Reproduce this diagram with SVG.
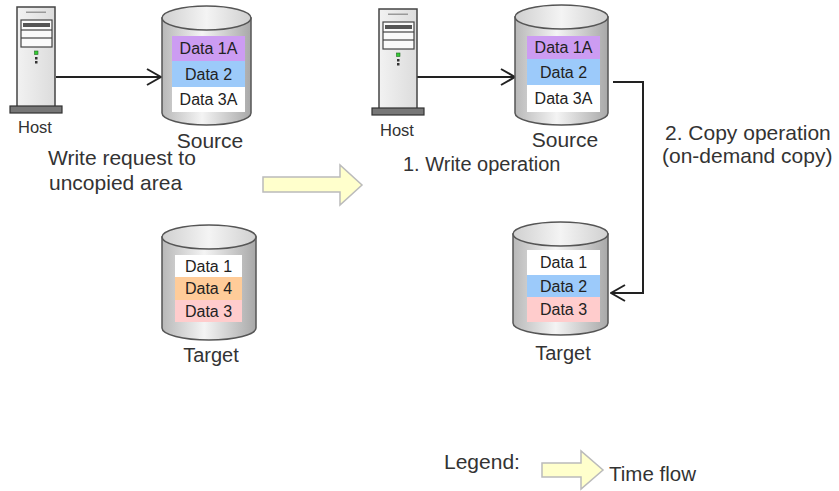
<svg xmlns="http://www.w3.org/2000/svg" xmlns:xlink="http://www.w3.org/1999/xlink" width="839" height="491" viewBox="0 0 839 491">
<style>
text{font-family:"Liberation Sans",Arial,sans-serif;fill:#333}
.lbl{font-size:21px}
.host{font-size:16.5px}
.data{font-size:16px;text-anchor:middle;fill:#222}
.mid{text-anchor:middle}
.cyl{fill:url(#cylG);stroke:#555;stroke-width:1.5}
.cylTop{fill:url(#topG);stroke:#555;stroke-width:1.5}
.conn{fill:none;stroke:#222;stroke-width:2}
.time{fill:#ffffcc;stroke:#bbb;stroke-width:1.5}
</style>
<defs>
<linearGradient id="cylG" x1="0" y1="0" x2="1" y2="0">
<stop offset="0" stop-color="#b8b8b8"/>
<stop offset="0.45" stop-color="#f4f4f4"/>
<stop offset="1" stop-color="#a8a8a8"/>
</linearGradient>
<linearGradient id="topG" x1="0" y1="0" x2="1" y2="0">
<stop offset="0" stop-color="#d0d0d0"/>
<stop offset="0.5" stop-color="#f4f4f4"/>
<stop offset="1" stop-color="#d0d0d0"/>
</linearGradient>
<linearGradient id="towerG" x1="0" y1="0" x2="1" y2="0">
<stop offset="0" stop-color="#f2f2f2"/>
<stop offset="1" stop-color="#dcdcdc"/>
</linearGradient>
<marker id="open" viewBox="0 0 18 18" refX="17" refY="9" markerWidth="18" markerHeight="18" markerUnits="userSpaceOnUse" orient="auto">
<path d="M3,1 L17,9 L3,17" fill="none" stroke="#222" stroke-width="2"/>
</marker>
<g id="hostIcon">
<rect x="0" y="0" width="38" height="100" fill="url(#towerG)" stroke="#444" stroke-width="1.5"/>
<rect x="9" y="4.5" width="20" height="1.5" fill="#999"/>
<rect x="4" y="13" width="31" height="27" fill="#fafafa" stroke="#444" stroke-width="1.2"/>
<rect x="6" y="16" width="27" height="4" fill="#555"/>
<line x1="4" y1="23" x2="35" y2="23" stroke="#444" stroke-width="1.2"/>
<line x1="4" y1="31" x2="35" y2="31" stroke="#444" stroke-width="1.2"/>
<rect x="17.5" y="44" width="3.5" height="3.5" fill="#3c3" stroke="#262" stroke-width="0.6"/>
<rect x="18" y="50" width="2.5" height="2.5" fill="#333"/>
<rect x="18" y="54" width="2.5" height="2.5" fill="#333"/>
<rect x="-7" y="99" width="52" height="7" fill="#777" stroke="#333" stroke-width="1.2"/>
</g>
</defs>

<g id="connectors">
<line class="conn" x1="56" y1="77" x2="161" y2="77" marker-end="url(#open)"/>
<line class="conn" x1="417" y1="77" x2="515" y2="77" marker-end="url(#open)"/>
<path class="conn" d="M613,82 H643 V293 H611" marker-end="url(#open)"/>
</g>

<g id="host1">
<use xlink:href="#hostIcon" x="17" y="7"/>
<text class="host mid" x="35" y="133">Host</text>
</g>

<g id="source1">
<path class="cyl" d="M162,18 V113 A44.5,12 0 0 0 251,113 V18 Z"/>
<ellipse class="cylTop" cx="206.5" cy="18" rx="44.5" ry="12"/>
<rect x="172" y="36" width="73" height="25" fill="#cc9cf2"/>
<rect x="172" y="61" width="73" height="26" fill="#9ccafa"/>
<rect x="172" y="87" width="73" height="25" fill="#ffffff"/>
<text class="data" x="208.5" y="54">Data 1A</text>
<text class="data" x="208.5" y="80">Data 2</text>
<text class="data" x="208.5" y="105">Data 3A</text>
<text class="lbl mid" x="210" y="148">Source</text>
</g>

<g id="target1">
<path class="cyl" d="M162,237 V328 A47,12 0 0 0 256,328 V237 Z"/>
<ellipse class="cylTop" cx="209" cy="237" rx="47" ry="12"/>
<rect x="175" y="255" width="67" height="22" fill="#ffffff"/>
<rect x="175" y="277" width="67" height="23" fill="#ffcc99"/>
<rect x="175" y="300" width="67" height="22" fill="#ffcccc"/>
<text class="data" x="208.5" y="272">Data 1</text>
<text class="data" x="208.5" y="294">Data 4</text>
<text class="data" x="208.5" y="317">Data 3</text>
<text class="lbl mid" x="211" y="362" style="font-size:20px">Target</text>
</g>

<g id="writeRequest">
<text class="lbl" x="48" y="165">Write request to</text>
<text class="lbl" x="49" y="190">uncopied area</text>
</g>

<g id="timeArrow">
<path class="time" d="M263,177 H340 V165 L362,185 L340,205 V192 H263 Z"/>
</g>

<g id="host2">
<use xlink:href="#hostIcon" x="379" y="9"/>
<text class="host mid" x="397" y="136">Host</text>
</g>

<g id="source2">
<path class="cyl" d="M515,17 V113 A46.5,12 0 0 0 608,113 V17 Z"/>
<ellipse class="cylTop" cx="561.5" cy="17" rx="46.5" ry="12"/>
<rect x="527" y="36" width="73" height="23" fill="#cc9cf2"/>
<rect x="527" y="59" width="73" height="26" fill="#9ccafa"/>
<rect x="527" y="85" width="73" height="27" fill="#ffffff"/>
<text class="data" x="563.5" y="53">Data 1A</text>
<text class="data" x="563.5" y="78">Data 2</text>
<text class="data" x="563.5" y="104">Data 3A</text>
<text class="lbl mid" x="565" y="147">Source</text>
</g>

<g id="writeOp">
<text class="lbl" x="403" y="171" style="font-size:20px">1. Write operation</text>
</g>

<g id="copyOp">
<text class="lbl" x="665" y="140">2. Copy operation</text>
<text class="lbl" x="662" y="163">(on-demand copy)</text>
</g>

<g id="target2">
<path class="cyl" d="M513,234 V323 A47.5,12 0 0 0 608,323 V234 Z"/>
<ellipse class="cylTop" cx="560.5" cy="234" rx="47.5" ry="12"/>
<rect x="527" y="250" width="73" height="25" fill="#ffffff"/>
<rect x="527" y="275" width="73" height="22" fill="#9ccafa"/>
<rect x="527" y="297" width="73" height="25" fill="#ffcccc"/>
<text class="data" x="563.5" y="268">Data 1</text>
<text class="data" x="563.5" y="292">Data 2</text>
<text class="data" x="563.5" y="315">Data 3</text>
<text class="lbl mid" x="563" y="360" style="font-size:20px">Target</text>
</g>

<g id="legend">
<text class="lbl" x="444" y="469">Legend:</text>
<path class="time" d="M542,463 H581 V451 L603,470 L581,489 V477 H542 Z"/>
<text class="lbl" x="609" y="481" style="font-size:20.5px">Time flow</text>
</g>
</svg>
